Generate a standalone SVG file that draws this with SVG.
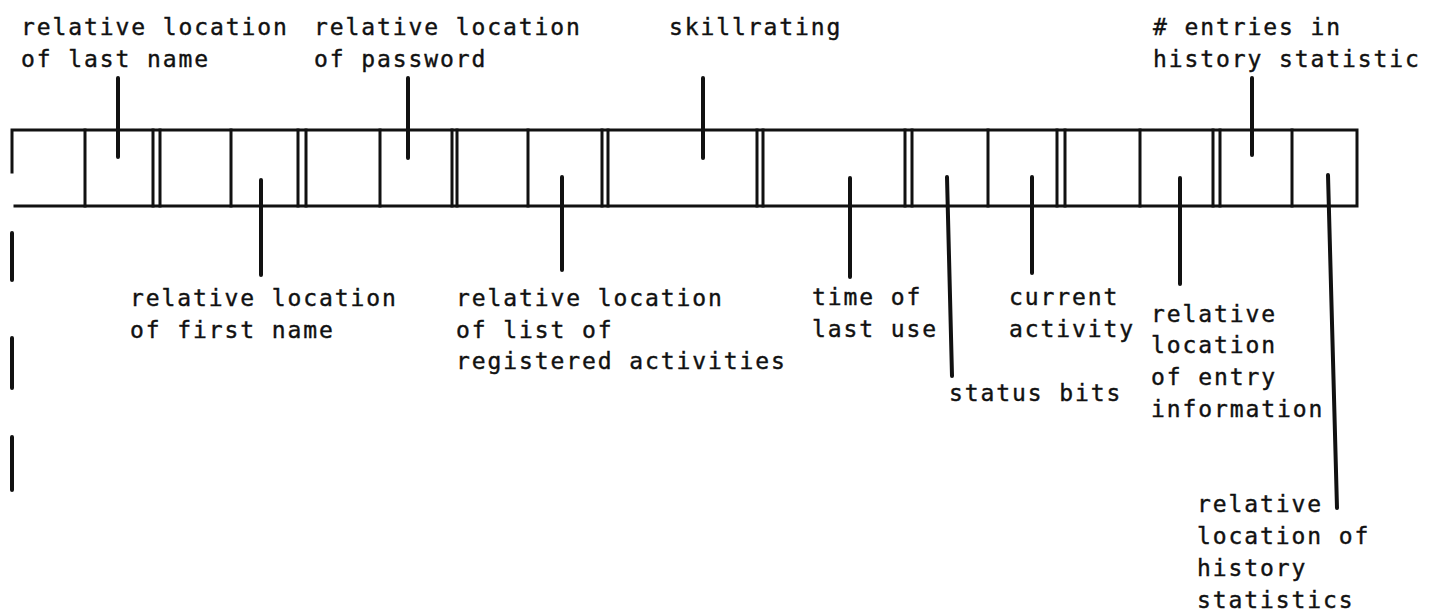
<svg xmlns="http://www.w3.org/2000/svg" width="1443" height="615" viewBox="0 0 1443 615">
<style>
.t{font-family:"DejaVu Sans Mono","Liberation Mono",monospace;font-size:23px;letter-spacing:1.9px;fill:#111;stroke:#111;stroke-width:0.4px}
.b{stroke:#111;stroke-width:3;fill:none;stroke-linecap:square}
.s{stroke:#111;stroke-width:4;fill:none;stroke-linecap:round}
</style>
<rect width="1443" height="615" fill="#fff"/>
<g id="record">
<path class="b" d="M12,130 H1357 V206 H15 M12,130 V172"/>
<path class="b" d="M85,130V206 M153,130V206 M160,130V206 M231,130V206 M298,130V206 M306,130V206 M380,130V206 M452,130V206 M457,130V206 M528,130V206 M602,130V206 M608,130V206 M757,130V206 M763,130V206 M905,130V206 M912,130V206 M988,130V206 M1057,130V206 M1065,130V206 M1140,130V206 M1213,130V206 M1220,130V206 M1292,130V206"/>
<path class="s" d="M12,233V280 M12,338V388 M12,437V490"/>
</g>
<g id="connectors">
<path class="s" d="M118,78V157 M408,78V158 M703,78V158 M1252,78V155"/>
<path class="s" d="M261,180V275 M562,177V270 M850,178V277 M947,177L952,376 M1032,177V273 M1180,178V284 M1328,175L1337,508"/>
</g>
<g id="label-last-name"><text class="t" x="21" y="35">relative location</text><text class="t" x="21" y="67">of last name</text></g>
<g id="label-password"><text class="t" x="314" y="35">relative location</text><text class="t" x="314" y="67">of password</text></g>
<g id="label-skillrating"><text class="t" x="669" y="35">skillrating</text></g>
<g id="label-entries"><text class="t" x="1153" y="35"># entries in</text><text class="t" x="1153" y="67">history statistic</text></g>
<g id="label-first-name"><text class="t" x="130" y="306">relative location</text><text class="t" x="130" y="338">of first name</text></g>
<g id="label-activities"><text class="t" x="456" y="306">relative location</text><text class="t" x="456" y="338">of list of</text><text class="t" x="456" y="369">registered activities</text></g>
<g id="label-time"><text class="t" x="812" y="305">time of</text><text class="t" x="812" y="337">last use</text></g>
<g id="label-current"><text class="t" x="1009" y="305">current</text><text class="t" x="1009" y="337">activity</text></g>
<g id="label-status"><text class="t" x="949" y="401">status bits</text></g>
<g id="label-entry-info"><text class="t" x="1151" y="322">relative</text><text class="t" x="1151" y="353">location</text><text class="t" x="1151" y="385">of entry</text><text class="t" x="1151" y="417">information</text></g>
<g id="label-history"><text class="t" x="1197" y="512">relative</text><text class="t" x="1197" y="544">location of</text><text class="t" x="1197" y="576">history</text><text class="t" x="1197" y="608">statistics</text></g>
</svg>
